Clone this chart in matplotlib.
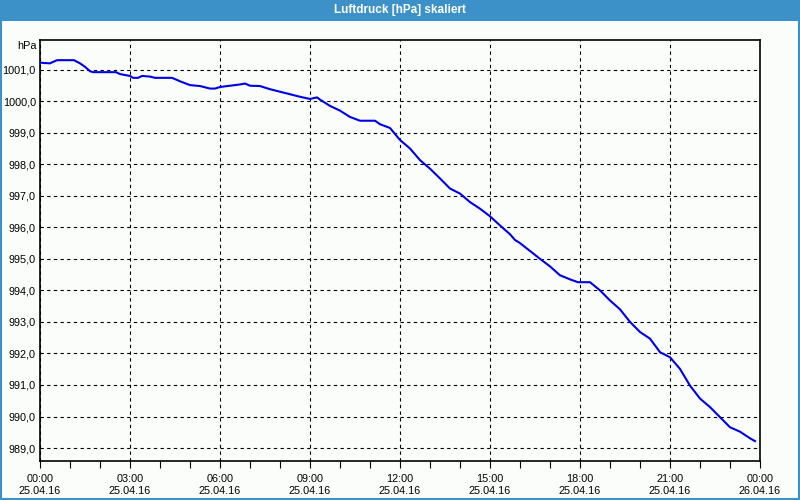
import matplotlib
matplotlib.use("Agg")
import matplotlib.pyplot as plt
from matplotlib.patches import Rectangle

# time in hours since 25.04.16 00:00, pressure in hPa
hours = [0.0, 0.333, 0.567, 1.133, 1.333, 1.5, 1.667, 1.767, 2.533, 2.667, 3.0, 3.1, 3.267,
         3.4, 3.667, 3.833, 4.4, 4.6, 4.667, 5.0, 5.333, 5.667, 5.833, 6.0, 6.333, 6.667,
         6.833, 7.0, 7.333, 7.667, 8.0, 8.333, 8.667, 9.0, 9.233, 9.333, 9.667, 10.0,
         10.333, 10.667, 11.167, 11.333, 11.667,
         12.0, 12.333, 12.667, 13.0, 13.333, 13.667, 14.0, 14.333, 14.667, 15.0,
         15.333, 15.667, 15.833, 16.0, 16.333, 16.667, 17.0, 17.333, 17.667, 17.933,
         18.333, 18.667, 19.0, 19.333, 19.667, 20.0, 20.333, 20.667, 21.0, 21.333,
         21.667, 22.0, 22.333, 22.667, 23.0, 23.333, 23.667, 23.833]
pressure = [1001.22, 1001.2, 1001.3, 1001.3, 1001.2, 1001.09, 1000.95, 1000.92, 1000.92,
            1000.86, 1000.8, 1000.74, 1000.74, 1000.8, 1000.78, 1000.74, 1000.74, 1000.66,
            1000.63, 1000.51, 1000.48, 1000.4, 1000.4, 1000.45, 1000.49, 1000.53, 1000.56,
            1000.49, 1000.48, 1000.38, 1000.3, 1000.22, 1000.14, 1000.07, 1000.12, 1000.05,
            999.85, 999.7, 999.5, 999.38, 999.38, 999.27, 999.15,
            998.77, 998.5, 998.13, 997.86, 997.55, 997.23, 997.07, 996.8, 996.59, 996.35,
            996.06, 995.78, 995.6, 995.5, 995.25, 995.0, 994.76, 994.48, 994.35, 994.26,
            994.26, 994.0, 993.68, 993.4, 993.0, 992.68, 992.47, 992.04, 991.88, 991.51,
            990.98, 990.57, 990.3, 989.98, 989.66, 989.52, 989.31, 989.22]

y_ticks = list(range(989, 1002))
y_labels = [f"{v},0" for v in y_ticks]
x_ticks = [0, 3, 6, 9, 12, 15, 18, 21, 24]
x_labels = ["00:00\n25.04.16", "03:00\n25.04.16", "06:00\n25.04.16", "09:00\n25.04.16",
            "12:00\n25.04.16", "15:00\n25.04.16", "18:00\n25.04.16", "21:00\n25.04.16",
            "00:00\n26.04.16"]
title = "Luftdruck [hPa] skaliert"
unit = "hPa"

bg = "#FBFDFB"
blue_bar = "#3C91C8"
plt.rcParams["font.family"] = ["Liberation Sans", "DejaVu Sans"]

fig = plt.figure(figsize=(8, 5), dpi=100, facecolor=bg)

# title bar and frame
fig.patches.append(Rectangle((0, 1 - 21 / 500), 1, 21 / 500, transform=fig.transFigure,
                             facecolor=blue_bar, edgecolor="none", zorder=0))
fig.patches.append(Rectangle((0.5 / 800, 1.5 / 500), 798.5 / 800, 497 / 500,
                             transform=fig.transFigure, facecolor="none",
                             edgecolor=blue_bar, linewidth=1.5, zorder=0))
fig.text(0.5, 1 - 10.5 / 500, title, color="white", ha="center", va="center",
         fontsize=8.5, fontweight="bold")

ax = fig.add_axes([40 / 800, 39 / 500, 720 / 800, 421 / 500])
ax.set_facecolor(bg)
ax.plot(hours, pressure, color="#0000E6", linewidth=1.5, zorder=3)

ax.set_xlim(0, 24)
ax.set_ylim(988.59, 1001.94)
ax.set_yticks(y_ticks)
ax.set_yticklabels(y_labels)
ax.set_xticks(x_ticks)
ax.set_xticklabels(x_labels, linespacing=1.3)
ax.set_xticks(range(0, 25), minor=True)

ax.grid(True, which="major", color="black", linestyle=(0, (3, 3)), linewidth=0.8)
ax.tick_params(axis="y", length=0, labelsize=7.8, pad=3)
ax.tick_params(axis="x", which="both", direction="out", length=5, width=0.8,
               labelsize=7.8, pad=4)
for s in ax.spines.values():
    s.set_linewidth(1.2)
    s.set_color("black")

fig.text(37 / 800, 1 - 46 / 500, unit, ha="right", va="center", fontsize=7.8)

fig.savefig("out.png", dpi=100, facecolor=bg)
